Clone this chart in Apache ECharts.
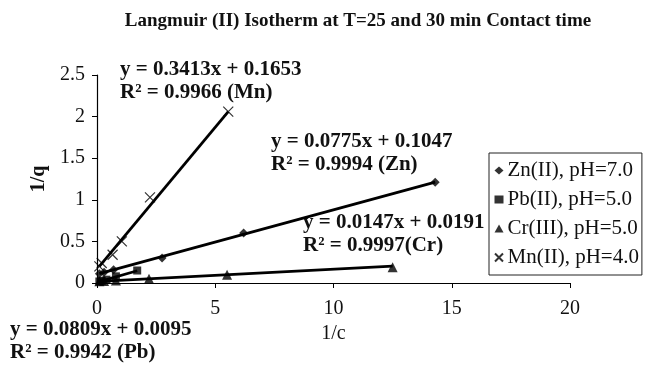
<!DOCTYPE html>
<html>
<head>
<meta charset="utf-8">
<script src="https://cdn.jsdelivr.net/npm/echarts@6/dist/echarts.min.js"></script>
<style>
  html, body { margin: 0; padding: 0; background: #fff; }
  #chart { width: 649px; height: 367px; }
</style>
</head>
<body>
<div id="chart"></div>
<script>
// Langmuir (II) linearised isotherm: 1/q versus 1/c for four metal ions
const seriesNames = ['Zn(II), pH=7.0', 'Pb(II), pH=5.0', 'Cr(III), pH=5.0', 'Mn(II), pH=4.0'];

const znX = [0.1, 0.3, 0.7, 2.75, 6.2, 14.3];
const znY = [0.11, 0.13, 0.16, 0.30, 0.60, 1.21];
const pbX = [0.1, 0.2, 0.4, 0.8, 1.7];
const pbY = [0.018, 0.025, 0.04, 0.08, 0.15];
const crX = [0.1, 0.3, 0.8, 2.2, 5.5, 12.5];
const crY = [0.02, 0.025, 0.03, 0.05, 0.10, 0.19];
const mnX = [0.1, 0.2, 0.66, 1.05, 2.24, 5.55];
const mnY = [0.2, 0.24, 0.34, 0.50, 1.03, 2.06];

// linear fit coefficients (slope, intercept) and R² for each ion
const slopes = [0.0775, 0.0809, 0.0147, 0.3413];
const intercepts = [0.1047, 0.0095, 0.0191, 0.1653];
const r2 = ['0.9994 (Zn)', '0.9942 (Pb)', '0.9997(Cr)', '0.9966 (Mn)'];

const xTicks = [0, 5, 10, 15, 20];
const yTicks = [0, 0.5, 1, 1.5, 2, 2.5];

const FONT = '"Liberation Serif", "Times New Roman", serif';
const xs = [znX, pbX, crX, mnX];
const ys = [znY, pbY, crY, mnY];
const symbols = ['diamond', 'rect', 'triangle', 'path://M0,0L10,10M10,0L0,10'];
const sizes = [9, 8, 10, 10];

const pairs = (a, b) => a.map((v, i) => [v, b[i]]);

const series = [];
seriesNames.forEach((name, k) => {
  const isCross = k === 3;
  series.push({
    name: name,
    type: 'scatter',
    data: pairs(xs[k], ys[k]),
    symbol: symbols[k],
    symbolSize: sizes[k],
    z: 3,
    itemStyle: isCross
      ? { color: 'rgba(0,0,0,0)', borderColor: '#000', borderWidth: 1.2 }
      : { color: '#000' }
  });
  // fitted line across the measured range
  const x0 = Math.min(...xs[k]), x1 = Math.max(...xs[k]);
  series.push({
    name: name + ' fit',
    type: 'line',
    data: [[x0, slopes[k] * x0 + intercepts[k]], [x1, slopes[k] * x1 + intercepts[k]]],
    symbol: 'none',
    silent: true,
    z: 2,
    lineStyle: { color: '#000', width: 2.8 }
  });
});

function eqText(k) {
  return 'y = ' + slopes[k].toFixed(4) + 'x + ' + intercepts[k].toFixed(4);
}

const labelStyle = { font: 'bold 21px ' + FONT, fill: '#111' };
const annotations = [
  { k: 3, left: 120, top: 59 },
  { k: 0, left: 271, top: 131 },
  { k: 2, left: 303, top: 212 },
  { k: 1, left: 10, top: 319 }
];

const chart = echarts.init(document.getElementById('chart'));
chart.setOption({
  animation: false,
  backgroundColor: '#fff',
  title: {
    text: 'Langmuir (II) Isotherm at T=25 and 30 min Contact time',
    left: 353,
    textAlign: 'center',
    top: 7,
    textStyle: { fontFamily: FONT, fontWeight: 'bold', fontSize: 19, color: '#111' }
  },
  grid: { left: 97, right: 79, top: 75, bottom: 84 },
  xAxis: {
    type: 'value',
    min: xTicks[0],
    max: xTicks[xTicks.length - 1],
    interval: 5,
    name: '1/c',
    nameLocation: 'middle',
    nameGap: 40,
    nameTextStyle: { fontFamily: FONT, fontSize: 20, color: '#111' },
    axisLine: { lineStyle: { color: '#000', width: 1.2 } },
    axisTick: { show: true, inside: false, length: 5, lineStyle: { color: '#000' } },
    axisLabel: { fontFamily: FONT, fontSize: 20, color: '#111', margin: 16 },
    splitLine: { show: false }
  },
  yAxis: {
    type: 'value',
    min: yTicks[0],
    max: yTicks[yTicks.length - 1],
    interval: 0.5,
    name: '1/q',
    nameLocation: 'middle',
    nameGap: 46,
    nameTextStyle: { fontFamily: FONT, fontSize: 20, fontWeight: 'bold', color: '#111' },
    axisLine: { show: true, lineStyle: { color: '#000', width: 1.2 } },
    axisTick: { show: true, inside: false, length: 5, lineStyle: { color: '#000' } },
    axisLabel: { fontFamily: FONT, fontSize: 20, color: '#111', margin: 12 },
    splitLine: { show: false }
  },
  legend: {
    data: seriesNames,
    orient: 'vertical',
    left: 489,
    top: 153,
    padding: [7, 3, 7, 5],
    itemGap: 8,
    itemWidth: 9,
    itemHeight: 8,
    borderColor: '#222',
    borderWidth: 1,
    textStyle: { fontFamily: FONT, fontSize: 21, color: '#111', padding: [0, 0, 0, -1] }
  },
  series: series,
  graphic: annotations.flatMap(a => [
    { type: 'text', left: a.left, top: a.top, style: Object.assign({ text: eqText(a.k) }, labelStyle) },
    { type: 'text', left: a.left, top: a.top + 23, style: Object.assign({ text: 'R² = ' + r2[a.k] }, labelStyle) }
  ])
});
</script>
</body>
</html>
